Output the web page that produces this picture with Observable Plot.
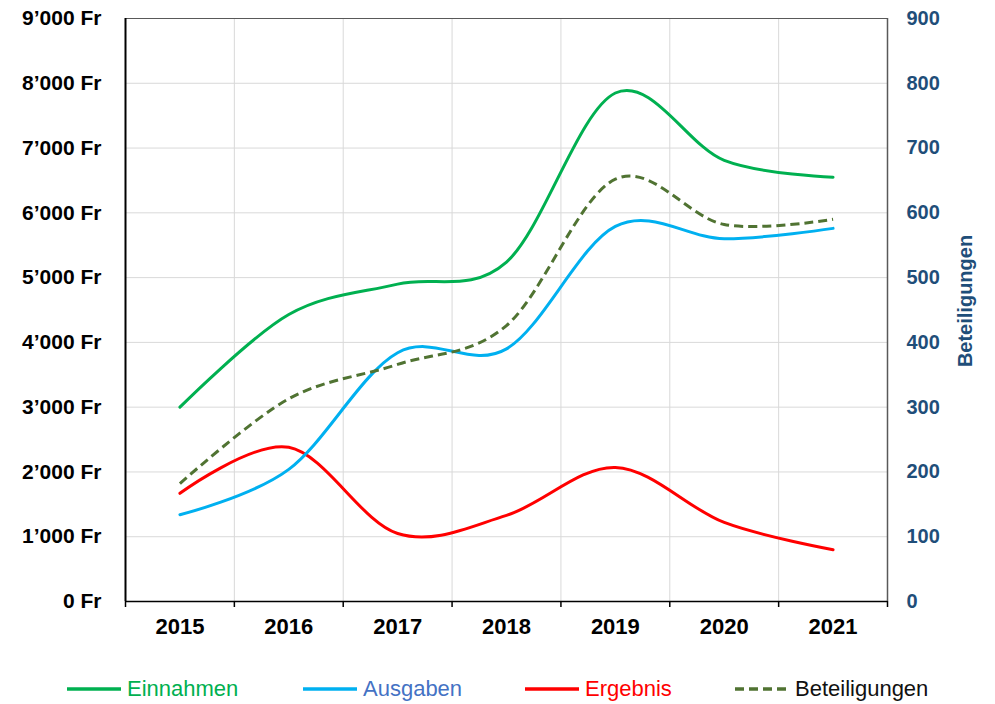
<!DOCTYPE html>
<html><head><meta charset="utf-8">
<script src="https://cdn.jsdelivr.net/npm/d3@7"></script>
<script src="https://cdn.jsdelivr.net/npm/@observablehq/plot@0.6"></script>
<style>
body{margin:0;background:#fff;font-family:Arial,"Liberation Sans",sans-serif;}
#chart{width:995px;height:660px;}
#legend{position:relative;width:995px;height:44px;}
.item{position:absolute;top:0;height:44px;display:flex;align-items:center;font-size:22px;}
.item svg{margin-right:6px;}
</style></head>
<body>
<div id="chart"></div>
<div id="legend"></div>
<script>
const years = [2015, 2016, 2017, 2018, 2019, 2020, 2021];
const einnahmen = [3000, 4430, 4900, 5240, 7850, 6810, 6550];
const ausgaben = [1340, 2040, 3840, 3900, 5790, 5600, 5760];
const ergebnis = [1670, 2380, 1050, 1330, 2070, 1220, 800];
const beteiligungen = [182, 313, 366, 426, 652, 582, 590];
const leftTicks = [0, 1000, 2000, 3000, 4000, 5000, 6000, 7000, 8000, 9000];
const rightTicks = [0, 100, 200, 300, 400, 500, 600, 700, 800, 900];
const seriesNames = ["Einnahmen", "Ausgaben", "Ergebnis", "Beteiligungen"];

const colors = {Einnahmen: "#00B050", Ausgaben: "#00B0F0", Ergebnis: "#FF0000", Beteiligungen: "#507332"};
const legendText = {Einnahmen: "#00B050", Ausgaben: "#4472C4", Ergebnis: "#FF0000", Beteiligungen: "#111111"};

const ratio = 9000 / 900; // right axis -> left axis units
const rowsOf = (arr, k = 1) => years.map((yr, i) => ({year: yr, value: arr[i] * k}));
const boundaries = d3.range(years[0] - 0.5, years[years.length - 1] + 1, 1);
const inner = boundaries.slice(1, -1);
const fmtFr = d => (d === 0 ? "0" : d3.format(",")(d).replace(/,/g, "\u2019")) + " Fr";

const lineOpts = {x: "year", y: "value", curve: "cardinal", tension: 0, strokeWidth: 3, strokeLinecap: "round", strokeLinejoin: "round"};

const chart = Plot.plot({
  width: 995, height: 660,
  marginLeft: 125, marginRight: 108, marginTop: 18, marginBottom: 59,
  style: {fontFamily: "Arial, 'Liberation Sans', sans-serif", fontSize: "21px", color: "#000", background: "#fff", overflow: "visible"},
  x: {type: "linear", domain: [boundaries[0], boundaries[boundaries.length - 1]], axis: null},
  y: {domain: [0, 9000], axis: null},
  marks: [
    Plot.ruleY(leftTicks.slice(1, -1), {stroke: "#d9d9d9", strokeWidth: 1}),
    Plot.ruleX(inner, {stroke: "#d9d9d9", strokeWidth: 1}),
    Plot.ruleY([9000], {stroke: "#595959", strokeWidth: 1.2}),
    Plot.ruleX([boundaries[boundaries.length - 1]], {stroke: "#595959", strokeWidth: 1.5}),
    Plot.ruleX([boundaries[0]], {stroke: "#000", strokeWidth: 2}),
    Plot.ruleY([0], {stroke: "#000", strokeWidth: 1.5}),
    Plot.axisX({ticks: boundaries, tickSize: 6, tickFormat: () => "", label: null, stroke: "#000", strokeWidth: 1.5}),
    Plot.axisX({ticks: years, tickSize: 0, tickPadding: 17, tickFormat: d => String(d), label: null, fontSize: 22, fontWeight: "bold"}),
    Plot.axisY({ticks: leftTicks, tickSize: 0, tickPadding: 24, tickFormat: fmtFr, label: null, fontSize: 21, fontWeight: "bold"}),
    Plot.axisY({anchor: "right", ticks: leftTicks, tickSize: 0, tickPadding: 19, tickFormat: d => String(d / ratio), label: null, fontSize: 20, fontWeight: "bold", fill: "#1F4E79"}),
    Plot.text(["Beteiligungen"], {frameAnchor: "right", dx: 78, dy: -9, rotate: -90, fontSize: 20, fontWeight: "bold", fill: "#1F4E79", textAnchor: "middle"}),
    Plot.line(rowsOf(ergebnis), {...lineOpts, stroke: colors.Ergebnis}),
    Plot.line(rowsOf(ausgaben), {...lineOpts, stroke: colors.Ausgaben}),
    Plot.line(rowsOf(beteiligungen, ratio), {...lineOpts, stroke: colors.Beteiligungen, strokeDasharray: "9,5", strokeLinecap: "butt"}),
    Plot.line(rowsOf(einnahmen), {...lineOpts, stroke: colors.Einnahmen})
  ]
});
document.getElementById("chart").appendChild(chart);

const legendPos = {Einnahmen: 67, Ausgaben: 303, Ergebnis: 525, Beteiligungen: 735};
const legend = document.getElementById("legend");
legend.style.marginTop = "7px";
for (const name of seriesNames) {
  const div = document.createElement("div");
  div.className = "item";
  div.style.left = legendPos[name] + "px";
  const dash = name === "Beteiligungen" ? 'stroke-dasharray="9,5"' : "";
  div.innerHTML = `<svg width="54" height="10"><line x1="0" x2="54" y1="5" y2="5" stroke="${colors[name]}" stroke-width="3.5" ${dash}/></svg><span style="color:${legendText[name]}">${name}</span>`;
  legend.appendChild(div);
}
</script>
</body></html>
